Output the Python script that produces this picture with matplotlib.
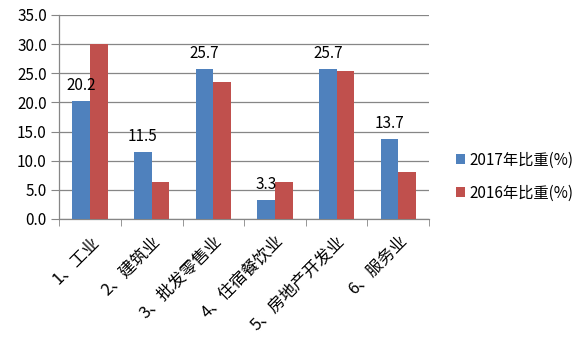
import numpy as np
import matplotlib
matplotlib.use('Agg')
import matplotlib.pyplot as plt

plt.rcParams['font.family'] = ['Noto Sans CJK SC', 'DejaVu Sans']

categories = ['1、工业', '2、建筑业', '3、批发零售业', '4、住宿餐饮业', '5、房地产开发业', '6、服务业']
share_2017 = [20.2, 11.5, 25.7, 3.3, 25.7, 13.7]
share_2016 = [30.0, 6.4, 23.5, 6.4, 25.4, 8.1]
yticks = [0, 5, 10, 15, 20, 25, 30, 35]

BLUE = '#4F81BD'
RED = '#C0504D'
GRID = '#868686'

fig = plt.figure(figsize=(5.85, 3.58), dpi=100)
ax = fig.add_axes([0.1014, 0.3883, 0.632, 0.570])

x = np.arange(len(categories))
w = 0.287
ax.bar(x - w / 2, share_2017, w, color=BLUE, label='2017年比重(%)', zorder=3)
ax.bar(x + w / 2, share_2016, w, color=RED, label='2016年比重(%)', zorder=3)

for xi, v in zip(x, share_2017):
    ax.annotate(f'{v:.1f}', (xi - w / 2, v), xytext=(0, 5), textcoords='offset points',
                ha='center', va='bottom', fontsize=11, color='black')

ax.set_xlim(-0.5, len(categories) - 0.5)
ax.set_ylim(0, 35)
ax.set_yticks(yticks)
ax.set_yticklabels([f'{t:.1f}' for t in yticks], fontsize=11)
ax.yaxis.grid(True, color=GRID, linewidth=0.9, zorder=0)

ax.set_xticks(x)
ax.set_xticklabels(categories, rotation=45, ha='right', rotation_mode='anchor', fontsize=12)
ax.set_xticks(np.arange(-0.5, len(categories)), minor=True)
ax.tick_params(axis='x', which='major', length=0, pad=10)
ax.tick_params(axis='x', which='minor', length=5, color=GRID, direction='out')
ax.tick_params(axis='y', length=6, color=GRID, direction='out', pad=3)

for s in ['top', 'right']:
    ax.spines[s].set_visible(False)
for s in ['left', 'bottom']:
    ax.spines[s].set_color(GRID)
    ax.spines[s].set_linewidth(0.9)

ax.legend(loc='center left', bbox_to_anchor=(1.035, 0.208), frameon=False, fontsize=11,
          handlelength=0.6, handleheight=0.6, handletextpad=0.3, labelspacing=1.05)

fig.savefig('out.png', dpi=100)
